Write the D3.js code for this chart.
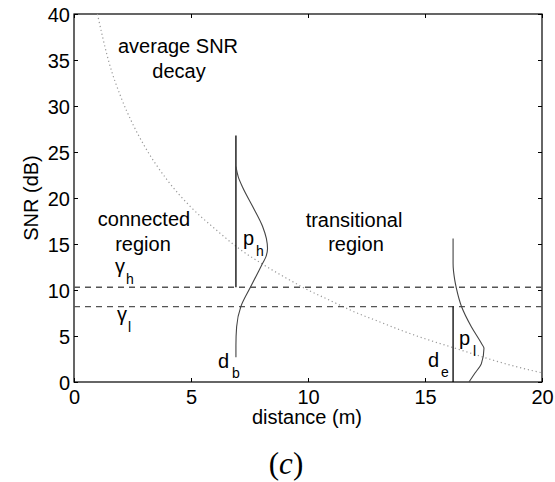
<!DOCTYPE html>
<html>
<head>
<meta charset="utf-8">
<script src="https://cdn.jsdelivr.net/npm/d3@7"></script>
<style>
  body { margin: 0; background: #fff; }
  svg text { font-family: "Liberation Sans", Arial, sans-serif; fill: #000; }
</style>
</head>
<body>
<div id="chart"></div>
<script>
// average SNR decay (dotted curve)
const decayDist = [1, 1.5, 2, 2.5, 3, 4, 5, 6, 7, 8, 9, 10, 11, 12, 13, 14, 15, 16, 17, 18, 19, 20];
const decaySnr = [40, 34.7, 31.0, 28.1, 25.7, 21.9, 19.0, 16.7, 14.6, 12.9, 11.4, 10.0, 8.8, 7.6, 6.6, 5.6, 4.7, 3.9, 3.1, 2.3, 1.6, 1.0];

// thresholds
const gammaH = 10.3;
const gammaL = 8.2;

// boundary distances and their vertical bars
const dB = 6.92;
const dBTop = 26.8;
const dE = 16.2;

// p_h density (snr, horizontal offset in metres from d_b)
const phSnr = [23.4, 22.3, 21.2, 19.1, 16.9, 15.6, 14.5, 13.6, 12.9, 10.4, 8.2, 6.0, 4.0, 2.7];
const phOff = [0, 0.1, 0.28, 0.71, 1.14, 1.3, 1.35, 1.28, 1.14, 0.64, 0.21, 0.03, 0, 0];

// p_l density (snr, offset from d_e)
const plSnr = [15.6, 12.9, 11.1, 10.2, 8.2, 6.0, 4.2, 3.66, 2.0, 0.95, 0];
const plOff = [0, 0, 0.07, 0.14, 0.36, 0.78, 1.21, 1.32, 1.21, 0.93, 0.68];

const xTicks = [0, 5, 10, 15, 20];
const yTicks = [0, 5, 10, 15, 20, 25, 30, 35, 40];

const width = 555, height = 482;
const margins = { top: 14, left: 74, right: 13, bottom: 100 };

const svg = d3.select('#chart').append('svg')
  .attr('width', width)
  .attr('height', height);

const x = d3.scaleLinear().domain([0, 20]).range([margins.left, width - margins.right]);
const y = d3.scaleLinear().domain([0, 40]).range([height - margins.bottom, margins.top]);

// axes, ticks pointing inward
const gx = svg.append('g')
  .attr('transform', `translate(0,${y(0)})`)
  .call(d3.axisBottom(x).tickValues(xTicks).tickSize(-4).tickPadding(8).tickFormat(d3.format('d')));
const gxTop = svg.append('g')
  .attr('transform', `translate(0,${y(40)})`)
  .call(d3.axisTop(x).tickValues(xTicks).tickSize(-4).tickFormat(''));
const gy = svg.append('g')
  .attr('transform', `translate(${x(0)},0)`)
  .call(d3.axisLeft(y).tickValues(yTicks).tickSize(-4).tickPadding(4).tickFormat(d3.format('d')));
const gyRight = svg.append('g')
  .attr('transform', `translate(${x(20)},0)`)
  .call(d3.axisRight(y).tickValues(yTicks).tickSize(-4).tickFormat(''));

[gx, gxTop, gy, gyRight].forEach(g => {
  g.select('.domain').remove();
  g.selectAll('line').attr('stroke', '#000');
  g.selectAll('text').attr('font-size', '20px').style('font-family', '"Liberation Sans", Arial, sans-serif');
});
gy.selectAll('text').attr('dy', '0.35em');

svg.append('rect')
  .attr('x', x(0)).attr('y', y(40))
  .attr('width', x(20) - x(0)).attr('height', y(0) - y(40))
  .attr('fill', 'none').attr('stroke', '#000').attr('stroke-width', 1.2);

// dotted decay curve
const decayLine = d3.line()
  .x((d, i) => x(decayDist[i]))
  .y(d => y(d))
  .curve(d3.curveMonotoneX);
svg.append('path')
  .attr('d', decayLine(decaySnr))
  .attr('fill', 'none')
  .attr('stroke', '#999')
  .attr('stroke-width', 1.2)
  .attr('stroke-dasharray', '1.2,2.8');

// dashed thresholds
[gammaH, gammaL].forEach(g => {
  svg.append('line')
    .attr('x1', x(0)).attr('x2', x(20))
    .attr('y1', y(g)).attr('y2', y(g))
    .attr('stroke', '#555')
    .attr('stroke-width', 1.3)
    .attr('stroke-dasharray', '6,5');
});

// vertical bars at d_b and d_e
svg.append('line')
  .attr('x1', x(dB)).attr('x2', x(dB))
  .attr('y1', y(dBTop)).attr('y2', y(gammaH))
  .attr('stroke', '#000').attr('stroke-width', 1.3);
svg.append('line')
  .attr('x1', x(dE)).attr('x2', x(dE))
  .attr('y1', y(gammaL)).attr('y2', y(0))
  .attr('stroke', '#000').attr('stroke-width', 1.3);

// density curves
function density(snr, off, base) {
  const line = d3.line()
    .x((d, i) => x(base + off[i]))
    .y(d => y(d))
    .curve(d3.curveMonotoneY);
  svg.append('path')
    .attr('d', line(snr))
    .attr('fill', 'none')
    .attr('stroke', '#444')
    .attr('stroke-width', 1.1);
}
density(phSnr, phOff, dB);
density(plSnr, plOff, dE);

// labels
function label(px, py, txt, anchor) {
  svg.append('text')
    .attr('x', px).attr('y', py)
    .attr('text-anchor', anchor || 'start')
    .attr('font-size', '20px')
    .text(txt);
}
function subLabel(px, py, main, sub, sx, sy) {
  label(px, py, main);
  svg.append('text')
    .attr('x', sx).attr('y', sy)
    .attr('font-size', '14px')
    .text(sub);
}

label(178, 53, 'average SNR', 'middle');
label(179, 78, 'decay', 'middle');
label(144, 226, 'connected', 'middle');
label(143, 251, 'region', 'middle');
label(354, 227, 'transitional', 'middle');
label(356, 251, 'region', 'middle');

subLabel(115, 273, 'γ', 'h', 126, 284);
subLabel(117, 321, 'γ', 'l', 128, 332);
subLabel(243, 245, 'p', 'h', 256, 256);
subLabel(459, 345, 'p', 'l', 473, 356);
subLabel(218, 368, 'd', 'b', 232, 378);
subLabel(428, 367, 'd', 'e', 441, 377);

// axis titles
label(307, 424, 'distance (m)', 'middle');
svg.append('text')
  .attr('transform', `translate(38,${(y(0) + y(40)) / 2}) rotate(-90)`)
  .attr('text-anchor', 'middle')
  .attr('font-size', '20px')
  .text('SNR (dB)');

// panel caption (c)
const cap = svg.append('text')
  .attr('x', 286).attr('y', 474)
  .attr('text-anchor', 'middle')
  .attr('font-size', '31px')
  .style('font-family', '"Liberation Serif", "DejaVu Serif", serif');
cap.append('tspan').text('(');
cap.append('tspan').attr('font-style', 'italic').text('c');
cap.append('tspan').text(')');
</script>
</body>
</html>
